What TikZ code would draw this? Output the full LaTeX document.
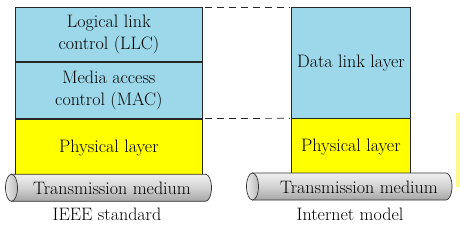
\documentclass[tikz,border=0pt]{standalone}
\usepackage{fontspec}
\definecolor{layerblue}{HTML}{9CD8E9}
\definecolor{layeryellow}{HTML}{FFFF00}
\begin{document}
\begin{tikzpicture}[x=1pt,y=1pt,
  layer/.style={draw=black!85, line width=0.8pt, anchor=north west, inner sep=0pt, align=center,
    font=\fontsize{18}{22}\selectfont},
  lbl/.style={font=\fontsize{18}{22}\selectfont, inner sep=0pt},
  guide/.style={draw=black!85, line width=0.7pt, dash pattern=on 7pt off 5pt},
  tube/.style={draw=black!80, line width=0.7pt, top color=gray!12, bottom color=gray!70, middle color=gray!35},
  tubeend/.style={draw=black!80, line width=0.7pt, left color=gray!15, right color=gray!55}]
\useasboundingbox (0,0) rectangle (460,226);
% IEEE stack
\node[layer, fill=layerblue, minimum width=187pt, minimum height=54pt] (llc) at (15,219) {Logical link\\control (LLC)};
\node[layer, fill=layerblue, minimum width=187pt, minimum height=56pt] (mac) at (llc.south west) {Media access\\control (MAC)};
\node[layer, fill=layeryellow, minimum width=187pt, minimum height=58pt] (phy) at (mac.south west) {Physical layer};
% Internet stack
\node[layer, fill=layerblue, minimum width=119pt, minimum height=110.5pt] (dll) at (291,219) {Data link layer};
\node[layer, fill=layeryellow, minimum width=119pt, minimum height=57pt] (phy2) at (dll.south west) {Physical layer};
% dashed guides
\draw[guide] ([xshift=2pt]llc.north east) -- ([xshift=-1pt]dll.north west);
\draw[guide] ([xshift=2pt]mac.south east) -- ([xshift=-1pt]dll.south west);
% left cylinder
\path[tube] (11.5,51.75) -- (205.5,51.75) arc[start angle=90, end angle=-90, x radius=6, y radius=13.5] -- (11.5,24.75) -- cycle;
\path[tubeend] (11.5,38.25) ellipse[x radius=6, y radius=13.5];
\node[lbl] (tm1) at (112,37.5) {Transmission medium};
% right cylinder
\path[tube] (252.5,53) -- (446,53) arc[start angle=90, end angle=-90, x radius=6, y radius=13.5] -- (252.5,26) -- cycle;
\path[tubeend] (252.5,39.5) ellipse[x radius=6, y radius=13.5];
\node[lbl] (tm2) at (359,38.5) {Transmission medium};
% captions
\node[lbl] (ieee) at (107,12) {IEEE standard};
\node[lbl] (inet) at (350,12) {Internet model};
% edge strip
\fill[yellow!45] (456,39) rectangle (460,113);
\end{tikzpicture}
\end{document}
